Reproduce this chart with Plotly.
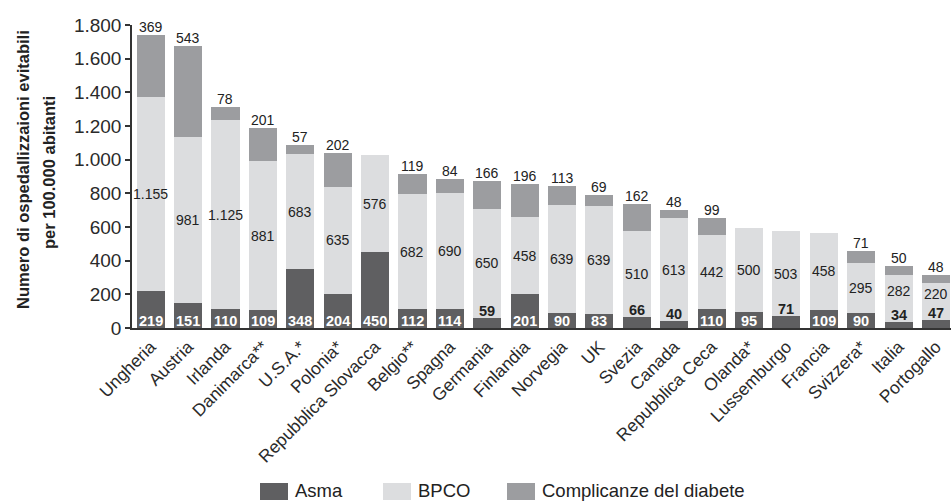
import plotly.graph_objects as go

# Ricoveri evitabili per 100.000 abitanti, per paese e per patologia
paesi = [
    "Ungheria", "Austria", "Irlanda", "Danimarca**", "U.S.A.*", "Polonia*",
    "Repubblica Slovacca", "Belgio**", "Spagna", "Germania", "Finlandia",
    "Norvegia", "UK", "Svezia", "Canada", "Repubblica Ceca", "Olanda*",
    "Lussemburgo", "Francia", "Svizzera*", "Italia", "Portogallo",
]
asma = [219, 151, 110, 109, 348, 204, 450, 112, 114, 59, 201,
        90, 83, 66, 40, 110, 95, 71, 109, 90, 34, 47]
bpco = [1155, 981, 1125, 881, 683, 635, 576, 682, 690, 650, 458,
        639, 639, 510, 613, 442, 500, 503, 458, 295, 282, 220]
diabete = [369, 543, 78, 201, 57, 202, None, 119, 84, 166, 196,
           113, 69, 162, 48, 99, None, None, None, 71, 50, 48]

serie = ["Asma", "BPCO", "Complicanze del diabete"]
colori = ["#5f5f61", "#dcdddf", "#9c9da0"]
y_ticks = list(range(0, 1801, 200))
y_max = 1800

FONT = "Liberation Sans, Arial, sans-serif"
TXT = "#222222"

# geometry of the plot area (pixels)
W, H = 951, 502
L, R, T, B = 132, 0, 25, 174
PLOT_H = H - T - B
UNIT_PX = PLOT_H / y_max  # pixels per data unit


def px_x(px):
    return (px - L) / (W - L - R)


def px_y(py):
    return (H - B - py) / PLOT_H


fig = go.Figure()
for nome, valori, colore in zip(serie, [asma, bpco, diabete], colori):
    fig.add_trace(go.Bar(
        x=paesi, y=valori, name=nome, marker=dict(color=colore, line=dict(width=0)),
        showlegend=False, hoverinfo="x+y+name",
    ))


def fmt(v):
    return f"{v:,}".replace(",", ".")


LABEL_PX = 15  # height reserved for a value label
ann = []
for p, a, b, d in zip(paesi, asma, bpco, diabete):
    fuori = a < 80
    # asma: dentro la barra se c'e' spazio, altrimenti sopra
    if not fuori:
        ann.append(dict(x=p, y=0, text=f"<b>{fmt(a)}</b>", yanchor="bottom", yshift=-3,
                        font=dict(family=FONT, size=14.5, color="white")))
    else:
        ann.append(dict(x=p, y=a, text=f"<b>{fmt(a)}</b>", yanchor="bottom", yshift=-3,
                        font=dict(family=FONT, size=14.5, color=TXT)))
    # BPCO al centro del segmento (spostato in alto se urta l'etichetta dell'asma)
    yc = a + b / 2
    if fuori and (yc - a) * UNIT_PX < 30:
        yc = (a + LABEL_PX / UNIT_PX + a + b) / 2
    ann.append(dict(x=p, y=yc, text=fmt(b), yanchor="middle",
                    font=dict(family=FONT, size=14, color=TXT)))
    # diabete sopra la barra
    if d is not None:
        ann.append(dict(x=p, y=a + b + d, text=fmt(d), yanchor="bottom", yshift=-2,
                        font=dict(family=FONT, size=14, color=TXT)))
for a_ in ann:
    a_.update(xref="x", yref="y", showarrow=False, xanchor="center")

# titolo asse y, due righe
for riga, xc, yc in [("Numero di ospedallizzaioni evitabili", 23, 170),
                     ("per 100.000 abitanti", 49, 173)]:
    ann.append(dict(
        xref="paper", yref="paper", x=px_x(xc), y=px_y(yc), showarrow=False,
        textangle=-90, xanchor="center", yanchor="middle",
        text=f"<b>{riga}</b>", font=dict(family=FONT, size=16.5, color=TXT),
    ))

# legenda
shapes = []
leg_sw = [260, 383, 507]
for nome, colore, x0 in zip(serie, colori, leg_sw):
    shapes.append(dict(type="rect", xref="paper", yref="paper",
                       x0=px_x(x0), x1=px_x(x0 + 28), y0=px_y(500), y1=px_y(483),
                       fillcolor=colore, line=dict(width=0)))
    ann.append(dict(xref="paper", yref="paper", x=px_x(x0 + 33), y=px_y(490),
                    text=nome, showarrow=False, xanchor="left", yanchor="middle",
                    font=dict(family=FONT, size=18.5, color=TXT)))

fig.update_layout(
    barmode="stack",
    bargap=0.25,
    width=W, height=H,
    margin=dict(l=L, r=R, t=T, b=B, pad=0),
    paper_bgcolor="white", plot_bgcolor="white",
    separators=",.",
    annotations=ann,
    shapes=shapes,
    xaxis=dict(
        range=[-0.5, 21.4], tickangle=-45, showgrid=False, zeroline=False,
        showline=True, linecolor="#333333", linewidth=1.5, ticks="",
        tickfont=dict(family=FONT, size=17.5, color="#2a2a2a"),
    ),
    yaxis=dict(
        range=[0, y_max], tickvals=y_ticks, tickformat=",d", showgrid=False,
        zeroline=False, showline=True, linecolor="#333333", linewidth=1.5,
        ticks="outside", ticklen=5, tickcolor="#333333", tickwidth=1.5,
        tickfont=dict(family=FONT, size=19, color="#2a2a2a"),
    ),
)

fig.write_html("out.html")
